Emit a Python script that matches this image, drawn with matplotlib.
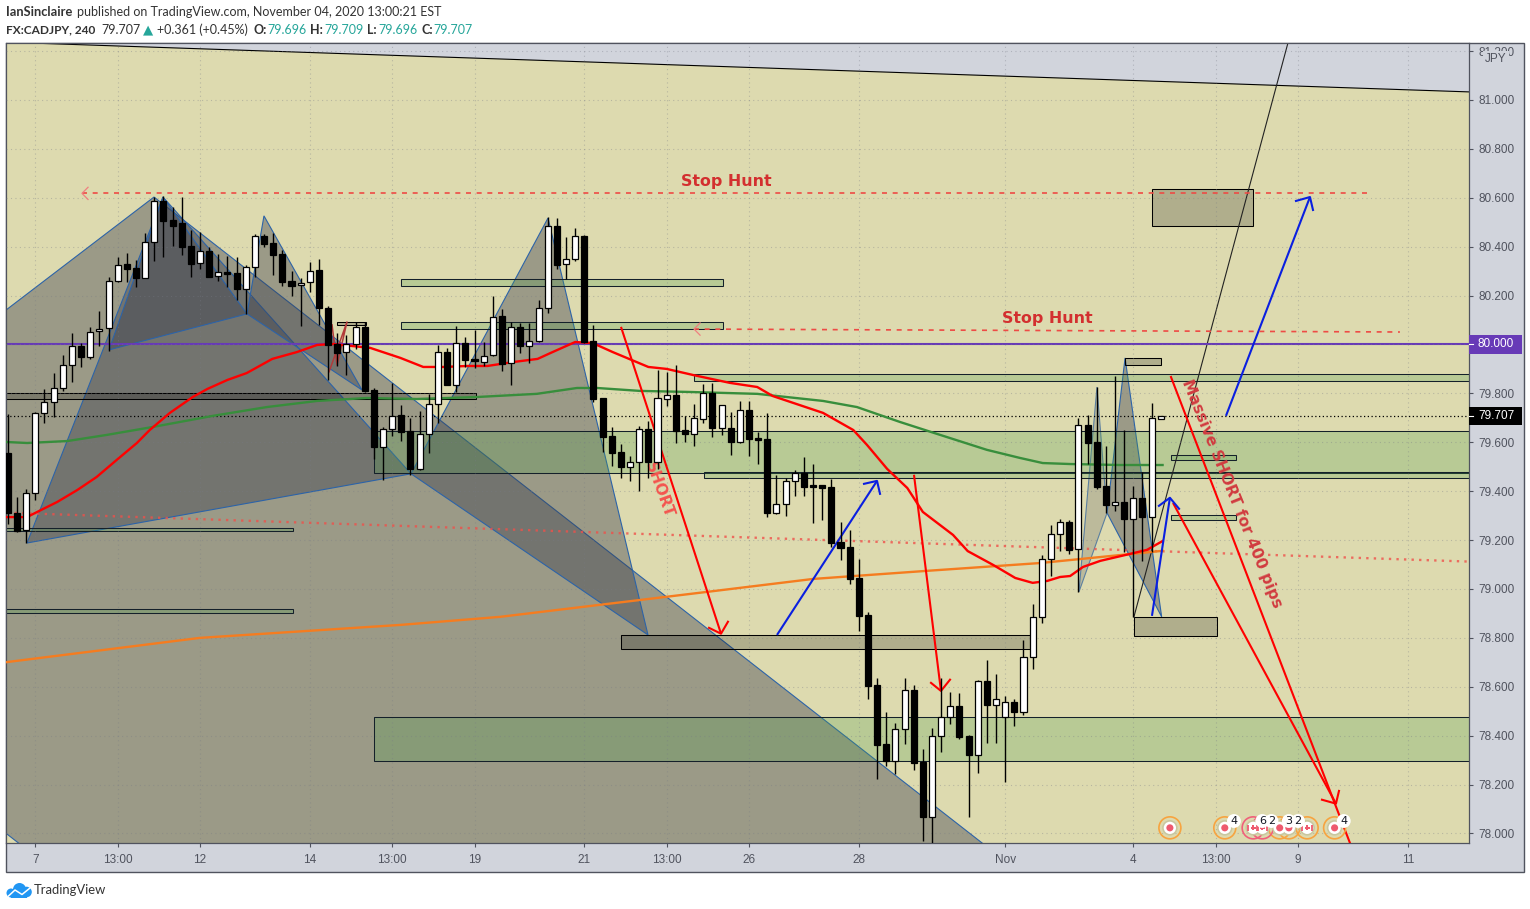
import numpy as np
import matplotlib
matplotlib.use("Agg")
import matplotlib.pyplot as plt
from matplotlib.patches import Rectangle, Polygon, Circle

# candles, 4h bars, bar 0 is the "7" tick
bar_idx = np.arange(-3, 124)
open_px = [79.555, 79.310, 79.241, 79.391, 79.721, 79.766, 79.822, 79.916, 79.994, 79.949,
           80.054, 80.066, 80.261, 80.328, 80.312, 80.273, 80.420, 80.586, 80.509, 80.496,
           80.402, 80.332, 80.384, 80.279, 80.295, 80.291, 80.226, 80.316, 80.443, 80.414,
           80.369, 80.260, 80.242, 80.254, 80.303, 80.148, 80.002, 79.968, 80.001, 80.070,
           79.814, 79.582, 79.653, 79.710, 79.647, 79.491, 79.633, 79.755, 79.969, 79.834,
           80.005, 79.939, 79.930, 79.956, 80.115, 79.923, 80.072, 79.995, 80.013, 80.148,
           80.483, 80.328, 80.348, 80.444, 80.013, 79.780, 79.625, 79.559, 79.500, 79.518,
           79.653, 79.521, 79.778, 79.793, 79.649, 79.635, 79.697, 79.800, 79.660, 79.657,
           79.602, 79.731, 79.616, 79.612, 79.312, 79.346, 79.441, 79.473, 79.424, 79.424,
           79.417, 79.192, 79.171, 79.045, 78.894, 78.607, 78.366, 78.295, 78.426, 78.587,
           78.294, 78.069, 78.398, 78.475, 78.521, 78.399, 78.322, 78.624, 78.527, 78.478,
           78.537, 78.498, 78.721, 78.884, 79.121, 79.224, 79.273, 79.162, 79.670, 79.600,
           79.421, 79.345, 79.355, 79.288, 79.371, 79.296, 79.696]
close_px = [79.310, 79.237, 79.393, 79.721, 79.766, 79.821, 79.916, 79.994, 79.949, 80.052,
            80.065, 80.261, 80.326, 80.310, 80.273, 80.420, 80.586, 80.506, 80.486, 80.400,
            80.330, 80.384, 80.277, 80.295, 80.290, 80.226, 80.316, 80.443, 80.412, 80.367,
            80.257, 80.240, 80.253, 80.302, 80.148, 79.998, 79.966, 80.001, 80.070, 79.811,
            79.582, 79.653, 79.709, 79.643, 79.491, 79.633, 79.755, 79.968, 79.836, 80.005,
            79.937, 79.931, 79.954, 80.114, 79.921, 80.070, 79.995, 80.013, 80.148, 80.483,
            80.326, 80.348, 80.443, 80.010, 79.777, 79.623, 79.557, 79.500, 79.518, 79.653,
            79.518, 79.780, 79.792, 79.647, 79.634, 79.698, 79.800, 79.660, 79.751, 79.602,
            79.731, 79.615, 79.611, 79.312, 79.346, 79.441, 79.473, 79.418, 79.418, 79.414,
            79.189, 79.169, 79.042, 78.891, 78.605, 78.363, 78.295, 78.426, 78.586, 78.290,
            78.069, 78.398, 78.475, 78.520, 78.396, 78.322, 78.624, 78.527, 78.549, 78.537,
            78.498, 78.721, 78.884, 79.121, 79.224, 79.273, 79.159, 79.670, 79.598, 79.418,
            79.345, 79.355, 79.288, 79.371, 79.296, 79.698, 79.707]
high_px = [79.716, 79.376, 79.409, 79.725, 79.818, 79.883, 79.957, 80.047, 80.006, 80.072,
           80.137, 80.276, 80.359, 80.374, 80.346, 80.456, 80.603, 80.607, 80.562, 80.602,
           80.468, 80.460, 80.400, 80.370, 80.362, 80.357, 80.325, 80.451, 80.452, 80.457,
           80.386, 80.302, 80.271, 80.339, 80.348, 80.157, 80.047, 80.039, 80.093, 80.093,
           79.821, 79.664, 79.843, 79.753, 79.698, 79.728, 79.796, 79.998, 79.984, 80.076,
           80.029, 80.059, 80.009, 80.198, 80.144, 80.093, 80.087, 80.087, 80.182, 80.520,
           80.516, 80.438, 80.475, 80.448, 80.080, 79.781, 79.661, 79.592, 79.544, 79.667,
           79.687, 79.896, 79.889, 79.916, 79.708, 79.757, 79.838, 79.844, 79.753, 79.723,
           79.768, 79.768, 79.641, 79.719, 79.466, 79.453, 79.487, 79.539, 79.511, 79.425,
           79.451, 79.273, 79.241, 79.123, 78.907, 78.635, 78.496, 78.451, 78.635, 78.607,
           78.346, 78.430, 78.635, 78.578, 78.573, 78.403, 78.628, 78.708, 78.652, 78.562,
           78.549, 78.791, 78.939, 79.139, 79.262, 79.286, 79.282, 79.698, 79.712, 79.825,
           79.585, 79.871, 79.650, 79.421, 79.480, 79.760, 79.709]
low_px = [79.266, 79.233, 79.188, 79.364, 79.680, 79.703, 79.811, 79.848, 79.909, 79.941,
          79.995, 79.975, 80.256, 80.257, 80.235, 80.272, 80.343, 80.358, 80.404, 80.366,
          80.277, 80.310, 80.276, 80.261, 80.236, 80.182, 80.125, 80.275, 80.400, 80.284,
          80.240, 80.200, 80.076, 80.216, 80.080, 79.855, 79.912, 79.875, 79.982, 79.807,
          79.532, 79.446, 79.627, 79.605, 79.466, 79.487, 79.557, 79.678, 79.833, 79.807,
          79.909, 79.905, 79.913, 79.953, 79.892, 79.834, 79.966, 79.923, 80.012, 80.130,
          80.309, 80.268, 80.343, 80.005, 79.766, 79.562, 79.503, 79.455, 79.442, 79.401,
          79.455, 79.491, 79.750, 79.598, 79.602, 79.586, 79.680, 79.623, 79.631, 79.548,
          79.598, 79.544, 79.511, 79.296, 79.308, 79.300, 79.382, 79.380, 79.269, 79.282,
          79.173, 79.119, 79.019, 78.829, 78.549, 78.223, 78.277, 78.243, 78.366, 78.260,
          77.971, 77.961, 78.333, 78.448, 78.386, 78.069, 78.249, 78.371, 78.371, 78.212,
          78.440, 78.485, 78.673, 78.860, 79.053, 79.155, 79.143, 78.989, 79.511, 79.408,
          79.310, 79.319, 79.153, 78.887, 79.116, 79.153, 79.696]

# moving averages
red_x = [-3.1, -0.9, 0.2, 2.4, 4.6, 6.7, 8.9, 11.1, 12.5, 14.7, 17.2, 18.8, 21.0, 23.1, 25.9, 28.6, 30.8, 32.5, 36.6,
         39.9, 42.4, 44.6, 47.2, 49.4, 52.2, 54.9, 56.3, 59.0, 60.9, 63.1, 67.0, 69.0, 71.9, 75.9, 78.9, 80.6, 86.1,
         89.4, 90.9, 93.1, 95.3, 97.0, 100.3, 101.9, 104.7, 107.1, 109.0, 110.6, 112.0, 113.1, 114.5, 116.4, 119.6,
         121.5, 123.2]
red_y = [79.294, 79.294, 79.315, 79.356, 79.405, 79.458, 79.528, 79.597, 79.650, 79.720, 79.785, 79.818, 79.855,
         79.883, 79.941, 79.969, 79.998, 80.002, 79.986, 79.945, 79.908, 79.908, 79.912, 79.912, 79.928, 79.941,
         79.965, 80.010, 80.006, 79.969, 79.908, 79.900, 79.875, 79.843, 79.826, 79.789, 79.720, 79.650, 79.589,
         79.491, 79.413, 79.315, 79.221, 79.155, 79.098, 79.045, 79.025, 79.033, 79.049, 79.053, 79.090, 79.115,
         79.143, 79.160, 79.196]
green_x = [-3.1, -0.9, 3.5, 7.8, 12.9, 19.4, 25.3, 30.8, 36.2, 41.7, 48.2, 54.8, 59.2, 61.4, 66.1, 71.2, 78.9, 86.1,
           89.8, 94.5, 98.9, 104.0, 107.6, 110.1, 113.1, 118.5, 123.2]
green_y = [79.601, 79.597, 79.605, 79.630, 79.663, 79.708, 79.744, 79.769, 79.781, 79.777, 79.785, 79.798, 79.822,
           79.822, 79.810, 79.806, 79.798, 79.769, 79.744, 79.683, 79.630, 79.569, 79.536, 79.515, 79.511, 79.507,
           79.507]
orange_x = [-3.1, 18.0, 39.9, 50.8, 66.1, 73.4, 85.0, 97.4, 109.8, 123.2]
orange_y = [78.701, 78.800, 78.853, 78.886, 78.955, 78.988, 79.041, 79.074, 79.106, 79.156]
dotted_x = [-3.1, 156.7]
dotted_y = [79.312, 79.112]

# drawings: left, right, top, bottom
green_zones = [(39.97, 75.16, 80.268, 80.241), (39.97, 75.16, 80.093, 80.065), (37.02, 160, 79.648, 79.473),
               (73.08, 160, 79.480, 79.453), (37.02, 160, 78.476, 78.295), (71.99, 160, 79.878, 79.852),
               (-6, 28.11, 79.251, 79.236), (-6, 28.11, 78.918, 78.902), (124.15, 131.19, 79.547, 79.526),
               (124.15, 131.19, 79.301, 79.281)]
tan_zones = [(32.97, 36.11, 80.093, 80.079), (-6, 48.13, 79.803, 79.779), (64.0, 108.71, 78.812, 78.754),
             (120.1, 129.11, 78.884, 78.807), (119.13, 123.06, 79.944, 79.917), (122.04, 133.08, 80.636, 80.485)]
big_shape = [(-40.25, 79.082), (12.97, 80.603), (122.25, 77.413), (69.04, 75.892)]
grey_triangles = [[(-0.91, 79.188), (13.95, 80.603), (41.06, 79.471)],
                  [(41.06, 79.471), (56.03, 80.517), (66.96, 78.812)],
                  [(8.05, 79.978), (13.95, 80.603), (23.13, 80.125)],
                  [(23.13, 80.125), (24.99, 80.526), (35.70, 79.814)],
                  [(117.13, 79.311), (119.1, 79.945), (123.1, 78.886)]]
light_triangle = [(114.06, 78.988), (116.03, 79.826), (117.13, 79.311)]
zigzag_x = [32.1, 34.06, 32.97, 32.43]
zigzag_y = [79.888, 80.092, 79.916, 80.080]
wedge_top = [(-6, 81.24), (-0.58, 81.233), (156.69, 81.033), (160, 81.02), (160, 77), (-6, 77)]
thin_x = [120.07, 136.9]
thin_y = [78.886, 81.233]

# start, tip, head left, head right
red_arrows = [((64.01, 80.072), (74.94, 78.817), (73.63, 78.841), (75.70, 78.866)),
              ((96.03, 79.467), (98.98, 78.583), (97.89, 78.616), (99.97, 78.629)),
              ((124.34, 79.352), (142.15, 78.122), (140.62, 78.138), (142.48, 78.174))]
blue_arrows = [((81.06, 78.812), (91.99, 79.442), (90.57, 79.430), (92.32, 79.389)),
               ((130.13, 79.708), (139.31, 80.603), (137.78, 80.587), (139.64, 80.550)),
               ((122.04, 78.890), (124.0, 79.373), (122.8, 79.340), (125.0, 79.328))]
long_red_x = [124.12, 143.68]
long_red_y = [79.867, 77.961]
hunt_1_x = [5.10, 146.09]
hunt_1_y = [80.618, 80.618]
hunt_2_x = [71.99, 149.14]
hunt_2_y = [80.063, 80.051]

# events along the bottom
event_x = [124, 130, 136, 137, 142]
flag_orange_x = [139]
flag_pink_x = [133.1, 134.1]
event_y = 78.023
badge_x = [131, 134.1, 135.1, 137, 138, 143]
badge_labels = ["4", "6", "2", "3", "2", "4"]
badge_y = 78.051

y_ticks = [78.0, 78.2, 78.4, 78.6, 78.8, 79.0, 79.2, 79.4, 79.6, 79.8, 80.0, 80.2, 80.4, 80.6, 80.8, 81.0, 81.2]
x_ticks = [0, 9, 18, 30, 39, 48, 60, 69, 78, 90, 106, 120, 129, 138, 150]
x_labels = ["7", "13:00", "12", "14", "13:00", "19", "21", "13:00", "26", "28", "Nov", "4", "13:00", "9", "11"]

last_price = 79.707
round_price = 80.0

STRIP = "#d1d4dc"
TXT = "#50535e"
TEAL = "#26a69a"
W, H = 1530, 909
plt.rcParams["font.family"] = ["Liberation Sans", "DejaVu Sans"]

fig = plt.figure(figsize=(W / 100, H / 100), dpi=100, facecolor="white")
# price and time strips
fig.add_artist(Rectangle((6 / W, 1 - 872 / H), 1518 / W, 829 / H, transform=fig.transFigure,
                         facecolor=STRIP, edgecolor=TXT, lw=1, zorder=-1))
ax = fig.add_axes([6.5 / W, 1 - 843 / H, 1462.5 / W, 800 / H], facecolor=STRIP)
ax.set_xlim(-3.15, 156.69)
ax.set_ylim(77.961, 81.233)

ax.add_patch(Polygon(wedge_top, closed=True, facecolor="#dddaaf", edgecolor="none", zorder=1))
ax.plot([-0.58, 156.69], [81.233, 81.033], color="black", lw=0.8, zorder=1.2)
ax.set_yticks(y_ticks)
ax.set_yticklabels(["%.3f" % v for v in y_ticks])
ax.set_xticks(x_ticks)
ax.set_xticklabels(x_labels)
ax.yaxis.tick_right()
ax.tick_params(axis="both", colors=TXT, labelsize=8.5, length=3, width=0.8, pad=3.6)
ax.tick_params(axis="x", pad=5)
ax.grid(True, color="#787b86", alpha=0.38, lw=0.8, ls=(0, (1, 3)), zorder=1.5)
ax.set_axisbelow(False)
for gl in ax.get_xgridlines() + ax.get_ygridlines():
    gl.set_zorder(1.5)
for s in ax.spines.values():
    s.set_color(TXT)
    s.set_linewidth(0.9)

# harmonic pattern shapes
EDGE = "#2c63a8"
ax.add_patch(Polygon(big_shape, closed=True, facecolor="#383c4b", alpha=0.4, edgecolor="none", zorder=2))
ax.add_patch(Polygon(big_shape, closed=True, fill=False, edgecolor=EDGE, lw=0.8, zorder=2))
for tri in grey_triangles:
    ax.add_patch(Polygon(tri, closed=True, facecolor="#383c4b", alpha=0.4, edgecolor="none", zorder=2))
    ax.add_patch(Polygon(tri, closed=True, fill=False, edgecolor=EDGE, lw=0.8, zorder=2))
ax.add_patch(Polygon(light_triangle, closed=True, facecolor="#383c4b", alpha=0.2, edgecolor="none", zorder=2))
ax.add_patch(Polygon(light_triangle, closed=True, fill=False, edgecolor="#5b7fa0", lw=0.8, zorder=2))

for left, right, top, bottom in green_zones:
    ax.add_patch(Rectangle((left, bottom), right - left, top - bottom, facecolor="#4d9e4b", alpha=0.25,
                           edgecolor="none", zorder=2.2))
    ax.add_patch(Rectangle((left, bottom), right - left, top - bottom, fill=False, edgecolor="#14202a",
                           lw=0.75, zorder=2.2))
for left, right, top, bottom in tan_zones:
    ax.add_patch(Rectangle((left, bottom), right - left, top - bottom, facecolor="black", alpha=0.2,
                           edgecolor="none", zorder=2.2))
    ax.add_patch(Rectangle((left, bottom), right - left, top - bottom, fill=False, edgecolor="black",
                           lw=0.75, zorder=2.2))

ax.plot(zigzag_x, zigzag_y, color="#b23a3a", lw=1.1, zorder=2.3)
ax.plot(thin_x, thin_y, color="#222222", lw=0.8, zorder=2.3)

# horizontal levels
ax.axhline(round_price, color="#673ab7", lw=1.5, zorder=2.5)
ax.axhline(last_price, color="black", lw=0.9, ls=(0, (1, 2)), zorder=2.5)

# averages
ax.plot(dotted_x, dotted_y, color="#f0504a", lw=1.7, ls=(0, (1, 2.2)), alpha=0.8, zorder=2.6)
ax.plot(orange_x, orange_y, color="#f57c1f", lw=1.7, zorder=2.7)
ax.plot(green_x, green_y, color="#388e3c", lw=1.7, zorder=2.7)
ax.plot(red_x, red_y, color="#ff0000", lw=1.7, zorder=2.8)


def draw_arrow(parts, color):
    start, tip, h1, h2 = parts
    ax.plot([start[0], tip[0]], [start[1], tip[1]], color=color, lw=1.5, zorder=3, solid_capstyle="butt")
    ax.plot([h1[0], tip[0], h2[0]], [h1[1], tip[1], h2[1]], color=color, lw=1.5, zorder=3)


for a in red_arrows:
    draw_arrow(a, "#ff0000")
for a in blue_arrows:
    draw_arrow(a, "#0a1fe0")
ax.plot(long_red_x, long_red_y, color="#ff0000", lw=1.5, zorder=3)

# stop hunt levels
ax.plot(hunt_1_x, hunt_1_y, color="#ee4b45", lw=1.2, ls=(0, (3, 3.4)), zorder=3)
ax.plot(hunt_2_x, hunt_2_y, color="#ee4b45", lw=1.2, ls=(0, (3, 3.4)), zorder=3)
ax.plot([5.76, 5.10, 5.76], [80.643, 80.618, 80.593], color="#f08080", lw=0.9, zorder=3)
ax.plot([72.65, 71.99, 72.65], [80.088, 80.063, 80.038], color="#f08080", lw=0.9, zorder=3)
ax.text(75.5, 80.668, "Stop Hunt", color="#d32f2f", fontsize=11.4, fontweight="bold", family="DejaVu Sans",
        ha="center", va="center", zorder=3)
ax.text(110.6, 80.107, "Stop Hunt", color="#d32f2f", fontsize=11.4, fontweight="bold", family="DejaVu Sans",
        ha="center", va="center", zorder=3)
ax.text(68.2, 79.405, "SHORT", color="#f4544f", fontsize=11, fontweight="bold", family="DejaVu Sans",
        rotation=-70, ha="center", va="center", rotation_mode="anchor", zorder=3)
ax.text(130.8, 79.39, "Massive SHORT for 400 pips", color="#d13b40", fontsize=11.2, fontweight="bold",
        family="DejaVu Sans", rotation=-68, ha="center", va="center", rotation_mode="anchor", zorder=6)

# candles
o = np.array(open_px)
c = np.array(close_px)
ax.vlines(bar_idx, low_px, high_px, color="black", lw=1.0, zorder=4)
up = c >= o
ax.bar(bar_idx[up], (c - o)[up], bottom=o[up], width=0.66, facecolor="white", edgecolor="black", lw=0.9, zorder=5)
ax.bar(bar_idx[~up], (o - c)[~up], bottom=c[~up], width=0.66, facecolor="black", edgecolor="black", lw=0.9, zorder=5)

# event markers
ring_x = event_x + flag_orange_x
flag_x = flag_pink_x + flag_orange_x
all_x = ring_x + flag_pink_x
ax.scatter(ring_x, [event_y] * len(ring_x), s=250, facecolor="none", edgecolor="#f7a440", lw=1.2, zorder=6)
ax.scatter(flag_pink_x, [event_y] * 2, s=250, facecolor="none", edgecolor="#f0607a", lw=1.2, zorder=6)
ax.scatter(all_x, [event_y] * len(all_x), s=125, facecolor="#c9c7a0", edgecolor="none", zorder=6)
ax.scatter(all_x, [event_y] * len(all_x), s=78, facecolor="white", edgecolor="none", zorder=6)
ax.scatter(event_x, [event_y] * len(event_x), s=26, facecolor="#ee5a6f", edgecolor="none", zorder=6)
ax.scatter(flag_x, [event_y] * len(flag_x), s=14, marker="P", facecolor="#ee5a6f", edgecolor="none", zorder=6)
for fx in flag_x:
    ax.scatter([fx - 0.55, fx + 0.55], [event_y] * 2, s=20, marker="|", color="#ee5a6f", lw=1.3, zorder=6)
ax.scatter(badge_x, [badge_y] * len(badge_x), s=100, facecolor="white", edgecolor="none", zorder=7)
for bx, lab in zip(badge_x, badge_labels):
    ax.text(bx, badge_y, lab, fontsize=8, color="#131722", ha="center", va="center", family="DejaVu Sans", zorder=8)

# price labels on the axis
tr = ax.get_yaxis_transform()
strip_w = 53 / 1462.5
for price, bg in [(round_price, "#673ab7"), (last_price, "black")]:
    ax.add_patch(Rectangle((1.0, price - 0.038), strip_w, 0.076, transform=tr, facecolor=bg, edgecolor="none",
                           clip_on=False, zorder=9))
    ax.plot([1.0, 1.0 + 4 / 1462.5], [price, price], transform=tr, color="white", lw=0.8, clip_on=False, zorder=10)
    ax.text(1.0 + 27 / 1462.5, price, "%.3f" % price, transform=tr, color="white", fontsize=8.5, ha="center",
            va="center", clip_on=False, zorder=10)
ax.text(1.0 + 27 / 1462.5, 81.167, "JPY", transform=tr, color=TXT, fontsize=8.5, ha="center", va="center",
        clip_on=False, zorder=10, bbox=dict(facecolor=STRIP, edgecolor="none", pad=1.5))


# header
def hdr(x, y, s, color="#333333", bold=False, size=9.0):
    fig.text(x / W, 1 - y / H, s, color=color, fontsize=size, family="Lato",
             fontweight="bold" if bold else "normal", va="center", ha="left")


hdr(6, 12, "IanSinclaire", bold=True, size=9.3)
hdr(77, 12, "published on TradingView.com, November 04, 2020 13:00:21 EST")
hdr(6, 29.5, "FX:CADJPY, 240", bold=True, size=8.6)
hdr(101, 29.5, "79.707")
fig.text(148 / W, 1 - 29.5 / H, "\u25b2", color=TEAL, fontsize=9.5, family="DejaVu Sans", va="center", ha="center")
hdr(157, 29.5, "+0.361 (+0.45%)")
for x1, lab, x2, val in [(253, "O:", 267, "79.696"), (310, "H:", 324, "79.709"),
                         (367, "L:", 378, "79.696"), (421, "C:", 433, "79.707")]:
    hdr(x1, 29.5, lab, bold=True)
    hdr(x2, 29.5, val, color=TEAL)

# logo
lg = fig.add_axes([6 / W, 1 - 898 / H, 26 / W, 16 / H])
lg.set_xlim(0, 26)
lg.set_ylim(0, 16)
lg.axis("off")
for cx, cy, r in [(5, 5, 4.5), (13.5, 8.5, 6.5), (20.5, 6, 5.3)]:
    lg.add_patch(Circle((cx, cy), r, facecolor="#2196f3", edgecolor="none"))
lg.add_patch(Rectangle((5, 0.5), 15.5, 6, facecolor="#2196f3", edgecolor="none"))
lg.plot([2.5, 9, 16, 24], [2, 8, 3.5, 10], color="white", lw=1.1)
fig.text(34 / W, 1 - 890.5 / H, "TradingView", color="#333333", fontsize=9.4, family="Lato", va="center", ha="left")

fig.savefig("out.png", dpi=100)
